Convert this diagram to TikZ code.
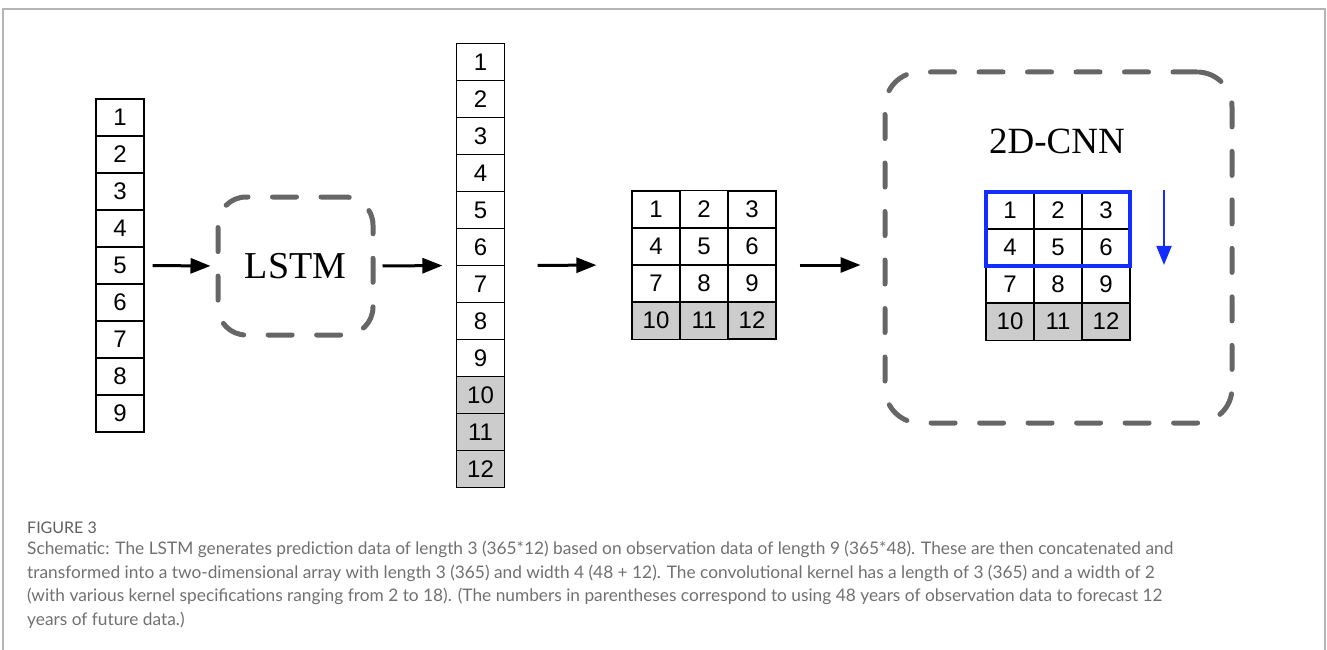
\documentclass[tikz,border=0pt]{standalone}
\usepackage{fontspec}
\setmainfont{Liberation Serif}
\newfontfamily\ziffer{Liberation Sans}
\newfontfamily\capfont{Lato}
\usetikzlibrary{arrows.meta,positioning,matrix,fit}
\definecolor{rahmen}{HTML}{B4B4B4}
\definecolor{strich}{HTML}{666666}
\definecolor{zellgrau}{HTML}{CCCCCC}
\definecolor{kblau}{RGB}{20,45,255}
\definecolor{captxt}{HTML}{707070}
\tikzset{
  zelle/.style={draw,line width=1.2pt,minimum width=48pt,minimum height=37pt,inner sep=0pt,
                font=\ziffer\fontsize{24}{24}\selectfont},
  voll/.style={fill=zellgrau},
  spalte/.style={matrix of nodes,nodes={zelle},row sep=-1.2pt,inner sep=0pt,outer sep=0pt},
  gitter/.style={matrix of nodes,nodes={zelle},row sep=-1.2pt,column sep=-1.2pt,inner sep=0pt,
                 outer sep=0pt},
  dbox/.style={draw=strich,line width=5pt,dash pattern=on 24pt off 24.5pt,line cap=round,
               inner sep=0pt,outer sep=0pt},
  kern/.style={draw=kblau,line width=4pt,inner sep=0pt},
  pfeil/.style={-{Triangle[length=20pt,width=15pt]},line width=3pt},
  bpfeil/.style={-{Triangle[length=19pt,width=15pt]},line width=2pt,draw=kblau,fill=kblau},
  rahmenlinie/.style={draw=rahmen,line width=1.5pt},
  titel/.style={font=\fontsize{37}{37}\selectfont,inner sep=0pt},
}

\begin{document}
\begin{tikzpicture}[x=1pt,y=-1pt]
  \useasboundingbox (0,0) rectangle (1327,650);
  \draw[rahmenlinie] (3,650) -- (3,9) -- (1325,9) -- (1325,650);

  % observed series
  \matrix[spalte] (beob) at (120,265.5) {
    1\\ 2\\ 3\\ 4\\ 5\\ 6\\ 7\\ 8\\ 9\\ };
  \node[dbox,minimum width=155pt,minimum height=138pt,rounded corners=28pt,
        font=\fontsize{38}{38}\selectfont] (lstm) at (295.5,266) {LSTM};
  % observed + predicted
  \matrix[spalte] (reihe) at (480.5,265.5) {
    1\\ 2\\ 3\\ 4\\ 5\\ 6\\ 7\\ 8\\ 9\\ |[voll]| 10\\ |[voll]| 11\\ |[voll]| 12\\ };
  \matrix[gitter] (feld) at (704,265) {
    1 & 2 & 3\\ 4 & 5 & 6\\ 7 & 8 & 9\\
    |[voll]| 10 & |[voll]| 11 & |[voll]| 12\\ };

  % CNN block
  \node[dbox,minimum width=347pt,minimum height=351pt,rounded corners=35pt] (cnn) at (1058.5,247.5) {};
  \node[titel] (cnntitel) at (1057,141) {2D-CNN};
  \matrix[gitter] (cnnfeld) at (1058,266) {
    1 & 2 & 3\\ 4 & 5 & 6\\ 7 & 8 & 9\\
    |[voll]| 10 & |[voll]| 11 & |[voll]| 12\\ };
  \node[kern,fit=(cnnfeld-1-1)(cnnfeld-2-3)] (kernel) {};
  \draw[bpfeil] ([xshift=32pt]kernel.north east) -- ([xshift=32pt,yshift=3pt]kernel.south east);

  \draw[pfeil,shorten <=8pt,shorten >=7.5pt] (beob.east) -- (lstm.west);
  \draw[pfeil,shorten <=9.5pt,shorten >=13.5pt] (lstm.east) -- (reihe.west);
  \draw[pfeil,shorten <=32.5pt,shorten >=35pt] (reihe.east) -- (feld.west);
  \draw[pfeil,shorten <=23pt,shorten >=24.5pt] (feld.east) -- (cnn.west |- feld.east);

  % caption
  \node[anchor=base west,inner sep=0pt,text=captxt!85!black,font=\capfont\fontsize{16}{16}\selectfont]
    (figlabel) at (27,533) {FIGURE 3};
  \node[anchor=north west,inner sep=0pt,align=left,text=captxt,
        font=\capfont\fontsize{17.3}{23.5}\selectfont] (caption) at (27,541)
    {Schematic: The LSTM generates prediction data of length 3 (365*12) based on observation data of length 9 (365*48). These are then concatenated and\\
     transformed into a two-dimensional array with length 3 (365) and width 4 (48 + 12). The convolutional kernel has a length of 3 (365) and a width of 2\\
     (with various kernel specifications ranging from 2 to 18). (The numbers in parentheses correspond to using 48 years of observation data to forecast 12\\
     years of future data.)};
\end{tikzpicture}
\end{document}
